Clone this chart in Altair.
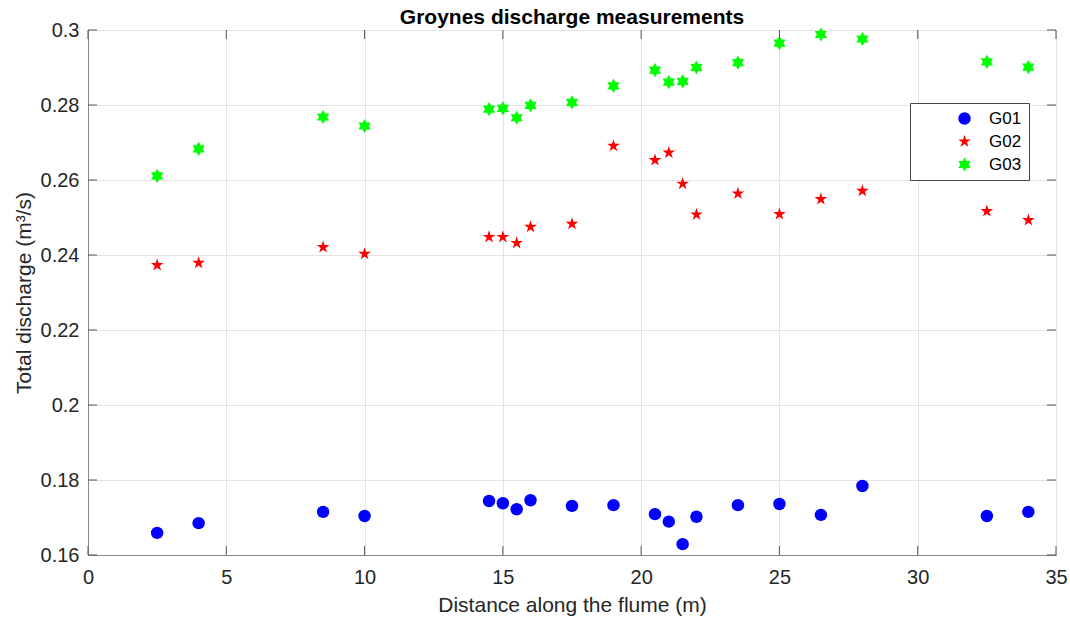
import altair as alt
import pandas as pd

# ---- data ----
dist = [2.5, 4, 8.5, 10, 14.5, 15, 15.5, 16, 17.5, 19, 20.5, 21, 21.5, 22, 23.5, 25, 26.5, 28, 32.5, 34]
g01 = [0.1659, 0.1685, 0.1715, 0.1704, 0.1744, 0.1738, 0.1722, 0.1746, 0.1731, 0.1733,
       0.1709, 0.1689, 0.1629, 0.1702, 0.1733, 0.1736, 0.1707, 0.1784, 0.1704, 0.1715]
g02 = [0.2373, 0.2379, 0.2421, 0.2403, 0.2448, 0.2448, 0.2432, 0.2475, 0.2483, 0.2691,
       0.2653, 0.2673, 0.2590, 0.2508, 0.2564, 0.2509, 0.2549, 0.2571, 0.2517, 0.2493]
g03 = [0.2611, 0.2683, 0.2768, 0.2744, 0.2789, 0.2791, 0.2766, 0.2799, 0.2807, 0.2851,
       0.2893, 0.2861, 0.2863, 0.2900, 0.2913, 0.2965, 0.2988, 0.2976, 0.2915, 0.2901]
series_names = ["G01", "G02", "G03"]
x_ticks = [0, 5, 10, 15, 20, 25, 30, 35]
y_ticks = [0.16, 0.18, 0.20, 0.22, 0.24, 0.26, 0.28, 0.30]

rows = []
for name, vals in zip(series_names, [g01, g02, g03]):
    for d, v in zip(dist, vals):
        rows.append({"x": d, "y": v, "series": name})
df = pd.DataFrame(rows)
xt = pd.DataFrame({"x": x_ticks})
yt = pd.DataFrame({"y": y_ticks})

W, H = 968, 525
FONT = "Liberation Sans"
TICKLEN = 9

penta = ("M0,-1 L0.2245,-0.309 L0.951,-0.309 L0.363,0.118 L0.588,0.809 L0,0.382 "
         "L-0.588,0.809 L-0.363,0.118 L-0.951,-0.309 L-0.2245,-0.309 Z")
hexa = ("M0,-1 L0.289,-0.5 L0.866,-0.5 L0.577,0 L0.866,0.5 L0.289,0.5 L0,1 "
        "L-0.289,0.5 L-0.866,0.5 L-0.577,0 L-0.866,-0.5 L-0.289,-0.5 Z")

xscale = alt.Scale(domain=[0, 35], nice=False, zero=False)
yscale = alt.Scale(domain=[0.16, 0.30], nice=False, zero=False)

leg = alt.Legend(title=None, labelExpr="datum.label + '      '")

points = alt.Chart(df).mark_point(filled=True, opacity=1, strokeWidth=0).encode(
    x=alt.X("x:Q", scale=xscale,
            axis=alt.Axis(values=x_ticks, title="Distance along the flume (m)")),
    y=alt.Y("y:Q", scale=yscale,
            axis=alt.Axis(values=y_ticks, format=".2~f", title="Total discharge (m³/s)")),
    color=alt.Color("series:N",
                    scale=alt.Scale(domain=series_names, range=["#0000ff", "#ff0000", "#00ff00"]),
                    legend=leg),
    shape=alt.Shape("series:N",
                    scale=alt.Scale(domain=series_names, range=["circle", penta, hexa]),
                    legend=leg),
    size=alt.Size("series:N",
                  scale=alt.Scale(domain=series_names, range=[155, 200, 160]),
                  legend=leg),
)

tick_style = dict(color="#555555", strokeWidth=1)
bottom = alt.Chart(xt).mark_rule(**tick_style).encode(
    x=alt.X("x:Q", scale=xscale), y=alt.value(H), y2=alt.value(H - TICKLEN))
top = alt.Chart(xt).mark_rule(**tick_style).encode(
    x=alt.X("x:Q", scale=xscale), y=alt.value(0), y2=alt.value(TICKLEN))
left = alt.Chart(yt).mark_rule(**tick_style).encode(
    y=alt.Y("y:Q", scale=yscale), x=alt.value(0), x2=alt.value(TICKLEN))
right = alt.Chart(yt).mark_rule(**tick_style).encode(
    y=alt.Y("y:Q", scale=yscale), x=alt.value(W), x2=alt.value(W - TICKLEN))

chart = alt.layer(points, bottom, top, left, right).properties(
    width=W, height=H,
    title=alt.TitleParams("Groynes discharge measurements", font=FONT, fontSize=21,
                          fontWeight="bold", color="#000000", anchor="middle",
                          frame="group", offset=-8),
    autosize=alt.AutoSizeParams(type="none"),
    padding={"left": 88, "top": 30, "right": 14, "bottom": 63},
).configure_view(
    stroke="#8a8a8a", strokeWidth=1
).configure_axis(
    labelFont=FONT, titleFont=FONT, labelFontSize=20, titleFontSize=21,
    labelColor="#262626", titleColor="#262626", titleFontWeight="normal",
    domainColor="#8a8a8a", domainWidth=1, ticks=False, labelFlush=False,
    gridColor="#e3e3e3", gridWidth=1, grid=True,
).configure_axisX(
    labelPadding=12, titlePadding=7, labelAngle=0,
).configure_axisY(
    labelPadding=9, titlePadding=6,
).configure_legend(
    orient="none", legendX=822, legendY=73,
    fillColor="#ffffff", strokeColor="#444444", padding=7,
    labelFont=FONT, labelFontSize=17, labelColor="#000000",
    rowPadding=5, symbolOffset=39, labelOffset=16,
    symbolStrokeWidth=0,
)

chart.save("out.html", embed_options={"renderer": "svg", "actions": False})
